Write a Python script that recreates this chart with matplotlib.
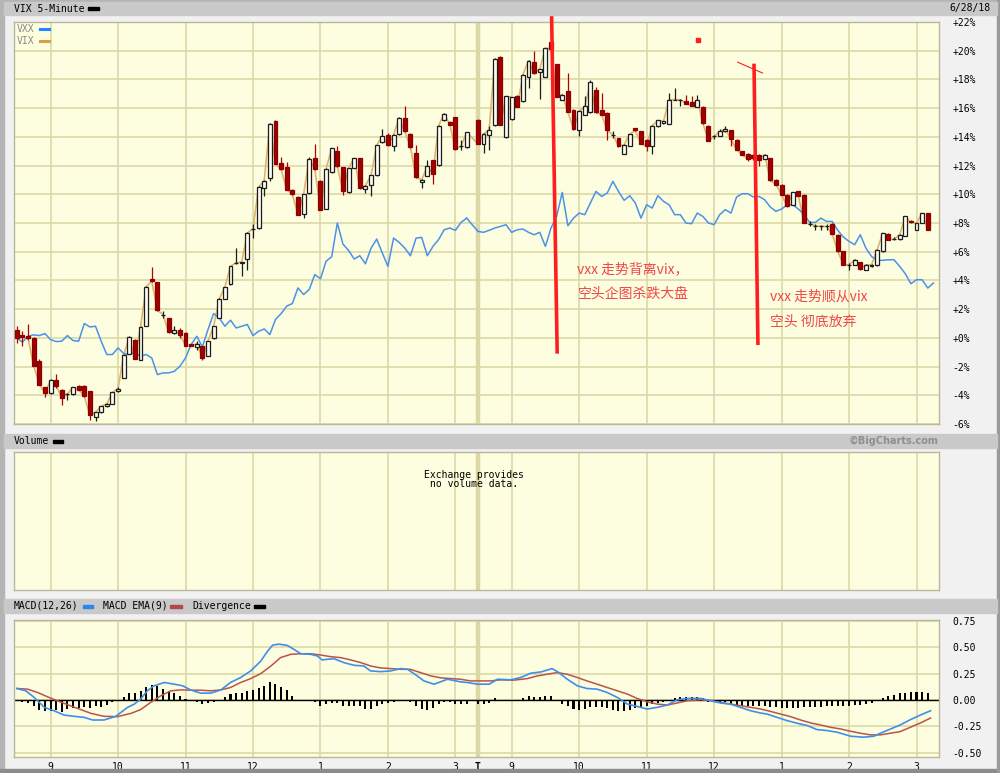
import numpy as np
import matplotlib.pyplot as plt
from matplotlib.patches import Rectangle

# ---- VIX 5-minute candles, % change (day 1: 81 bars, day 2: 81 bars) ----
d1_open = [0.58, 0.23, 0.16, -0.03, -1.63, -3.44, -3.84, -2.95, -3.60, -3.90,
           -3.90, -3.37, -3.32, -3.72, -5.53, -5.16, -4.76, -4.58, -3.72, -2.79,
           -1.09, -0.12, -1.51, 0.81, 4.11, 3.88, 1.62, 1.39, 0.35, 0.53,
           0.35, -0.42, -0.63, -0.58, -1.23, 0.00, 1.39, 2.72, 3.76, 5.22,
           5.18, 5.46, 7.59, 7.62, 10.45, 11.15, 15.10, 12.19, 11.89, 10.33,
           9.80, 8.66, 10.10, 12.54, 10.92, 8.99, 11.53, 12.99, 11.87, 10.13,
           11.83, 12.52, 10.36, 10.62, 11.32, 13.61, 14.10, 13.34, 14.20, 15.31,
           14.20, 12.87, 10.83, 11.29, 12.36, 12.06, 15.15, 15.03, 15.36, 13.34,
           13.29]
d1_high = [0.81, 0.46, 0.97, 0.05, -1.50, -3.40, -2.90, -2.49, -3.55, -3.85,
           -3.40, -3.30, -3.30, -3.70, -5.15, -4.74, -4.55, -3.75, -3.40, -1.15,
           0.10, -0.10, 0.80, 3.60, 4.95, 3.90, 1.86, 1.40, 0.81, 0.69,
           0.40, -0.40, -0.19, -0.55, -0.20, 0.85, 2.75, 3.55, 5.00, 6.27,
           5.30, 7.35, 7.90, 10.55, 11.00, 14.95, 15.15, 12.61, 12.24, 10.40,
           9.85, 10.05, 12.61, 13.47, 11.00, 11.80, 13.25, 13.34, 11.90, 11.86,
           12.55, 12.55, 10.65, 11.35, 13.45, 14.54, 14.27, 14.20, 15.35, 16.12,
           14.25, 13.45, 11.05, 12.36, 12.40, 14.82, 15.66, 15.08, 15.40, 13.80,
           14.35]
d1_low = [-0.35, -0.54, -0.12, -1.98, -3.30, -4.11, -3.90, -3.49, -4.65, -4.30,
          -3.95, -3.65, -4.10, -5.69, -5.81, -5.20, -4.80, -4.60, -3.75, -2.80,
          -1.10, -1.50, -1.55, 0.80, 3.90, 1.90, 1.39, 0.35, 0.30, -0.03,
          -0.60, -0.60, -0.82, -1.51, -1.25, -0.05, 1.35, 2.70, 3.70, 5.11,
          4.34, 4.71, 6.97, 7.60, 9.87, 10.92, 12.10, 11.70, 10.30, 9.95,
          8.55, 8.36, 10.05, 11.70, 8.90, 8.95, 11.50, 11.90, 9.97, 10.10,
          11.80, 10.40, 10.09, 9.90, 11.30, 13.55, 13.38, 12.99, 14.15, 14.35,
          13.25, 11.15, 10.43, 11.25, 10.74, 12.00, 15.10, 14.80, 13.10, 13.06,
          13.25]
d1_close = [0.00, 0.07, -0.03, -1.93, -3.25, -3.84, -2.95, -3.32, -4.18, -3.90,
            -3.44, -3.60, -4.07, -5.39, -5.18, -4.76, -4.60, -3.79, -3.53, -1.21,
            0.04, -1.44, 0.76, 3.55, 3.95, 1.93, 1.62, 0.39, 0.53, 0.23,
            -0.54, -0.58, -0.40, -1.40, -0.23, 0.81, 2.72, 3.53, 4.99, 5.22,
            5.29, 7.31, 7.59, 10.50, 10.96, 14.91, 12.12, 11.73, 10.33, 9.99,
            8.59, 9.99, 12.49, 11.73, 8.94, 11.77, 13.22, 11.94, 10.20, 11.83,
            12.52, 10.43, 10.60, 11.32, 13.41, 14.03, 13.41, 14.15, 15.31, 14.38,
            13.27, 11.18, 11.01, 11.94, 11.43, 14.78, 15.61, 14.85, 13.15, 13.34,
            14.31]

d2_open = [15.19, 13.50, 14.15, 14.80, 19.54, 13.99, 15.26, 16.87, 16.47, 18.17,
           19.21, 18.49, 18.17, 20.58, 19.07, 16.59, 17.17, 15.89, 14.50, 15.54,
           15.70, 17.24, 15.89, 15.66, 14.15, 13.92, 12.83, 13.38, 14.61, 14.38,
           13.80, 13.34, 14.73, 14.96, 14.92, 16.59, 16.59, 16.47, 16.40, 16.08,
           16.08, 14.78, 14.03, 14.08, 14.38, 14.45, 13.80, 12.99, 12.83, 12.76,
           12.76, 12.45, 12.52, 11.01, 10.67, 9.97, 9.27, 10.20, 9.97, 7.95,
           7.81, 7.76, 7.76, 7.95, 7.18, 6.02, 5.09, 5.09, 5.26, 4.75,
           4.98, 5.09, 6.02, 7.25, 6.88, 6.88, 7.11, 8.16, 7.53, 8.00,
           8.69]
d2_high = [15.25, 14.25, 14.73, 19.50, 19.60, 16.85, 16.80, 16.90, 18.35, 19.35,
           20.00, 18.75, 20.22, 20.60, 19.10, 16.97, 18.44, 15.92, 15.80, 16.82,
           17.98, 17.47, 17.05, 15.70, 14.38, 13.95, 13.48, 14.23, 14.65, 14.40,
           13.85, 14.80, 15.18, 15.10, 17.05, 17.40, 16.63, 16.94, 16.82, 16.94,
           16.12, 14.82, 14.15, 14.54, 14.78, 14.48, 13.83, 13.02, 12.86, 12.79,
           12.79, 12.79, 12.55, 11.04, 10.70, 10.00, 10.16, 10.23, 10.00, 8.11,
           7.95, 7.88, 7.95, 7.98, 7.21, 6.05, 5.21, 5.50, 5.29, 5.12,
           5.12, 6.17, 7.33, 7.28, 7.00, 7.21, 8.49, 8.20, 8.03, 8.72,
           8.72]
d2_low = [13.50, 12.87, 13.10, 14.75, 14.80, 13.95, 15.20, 16.05, 16.45, 17.40,
          18.40, 16.63, 18.15, 20.10, 16.75, 16.55, 15.70, 14.50, 14.08, 15.50,
          15.65, 15.65, 15.50, 13.80, 13.92, 13.30, 12.80, 13.35, 14.40, 13.50,
          12.99, 12.83, 14.70, 14.90, 14.90, 16.55, 16.17, 16.28, 16.15, 16.05,
          14.93, 13.70, 13.85, 14.05, 14.35, 13.38, 13.08, 12.74, 12.29, 12.36,
          11.94, 12.43, 10.95, 10.64, 9.94, 9.13, 9.25, 9.87, 7.97, 7.76,
          7.53, 7.53, 7.53, 7.20, 5.99, 5.06, 4.75, 5.05, 4.76, 4.72,
          4.95, 5.00, 6.00, 6.81, 6.80, 6.85, 7.08, 8.00, 7.50, 7.97,
          7.50]
d2_close = [13.52, 14.20, 14.50, 19.44, 14.85, 16.82, 16.77, 16.08, 18.33, 19.30,
            18.44, 18.72, 20.19, 20.12, 16.77, 16.94, 15.73, 14.54, 15.77, 16.12,
            17.79, 15.70, 15.54, 14.45, 14.15, 13.34, 13.45, 14.20, 14.45, 13.52,
            13.34, 14.78, 15.15, 15.08, 16.59, 16.59, 16.59, 16.31, 16.17, 16.59,
            14.96, 13.73, 14.03, 14.38, 14.54, 13.85, 13.10, 12.76, 12.45, 12.52,
            12.41, 12.76, 10.97, 10.67, 9.97, 9.16, 10.13, 9.90, 8.00, 7.95,
            7.81, 7.76, 7.76, 7.23, 6.02, 5.09, 5.09, 5.44, 4.79, 5.09,
            5.09, 6.14, 7.30, 6.84, 6.88, 7.18, 8.46, 8.04, 8.00, 8.69,
            7.53]

# ---- VXX comparison line, % change ----
vxx_d1 = [0.00, -0.30, 0.11, 0.21, 0.16, 0.30, -0.12, -0.26, -0.23, 0.16,
          -0.19, -0.23, 1.00, 0.76, 0.81, -0.23, -1.16, -1.16, -0.70, -1.09,
          -1.16, -1.00, -1.28, -1.16, -1.40, -2.56, -2.44, -2.44, -2.33, -1.98,
          -1.40, -0.47, 0.11, -0.63, 0.58, 1.69, 1.39, 0.81, 1.23, 0.69,
          0.81, 0.93, 0.16, 0.46, 0.62, 0.23, 1.28, 1.69, 2.21, 2.39,
          3.48, 3.02, 3.37, 4.41, 4.11, 5.34, 5.65, 8.00, 6.53, 6.09,
          5.49, 5.72, 5.16, 6.25, 6.88, 5.91, 4.98, 6.95, 6.65, 6.25,
          5.72, 6.95, 7.00, 5.72, 6.37, 6.84, 7.53, 7.65, 7.49, 8.04,
          8.34]
vxx_d2 = [7.42, 7.35, 7.49, 7.65, 7.76, 7.88, 7.35, 7.53, 7.58, 7.35,
          7.18, 7.35, 6.37, 7.65, 8.46, 10.13, 7.81, 8.34, 8.69, 8.58,
          9.39, 10.20, 9.85, 10.09, 10.90, 10.20, 9.58, 9.90, 9.39, 8.34,
          9.27, 9.04, 9.90, 9.51, 9.27, 8.58, 8.58, 8.00, 7.95, 8.69,
          8.46, 8.00, 7.88, 8.58, 8.93, 8.69, 9.81, 10.04, 10.04, 9.81,
          9.85, 9.62, 9.11, 8.81, 8.97, 9.27, 9.27, 8.97, 8.58, 8.04,
          8.04, 8.34, 8.11, 8.11, 7.49, 7.02, 6.72, 6.49, 7.18, 6.25,
          5.67, 5.40, 5.40, 5.44, 5.44, 4.98, 4.47, 3.77, 4.05, 4.05,
          3.47, 3.82]

# ---- MACD(12,26), EMA(9), divergence ----
macd_slot = [0, 1.6, 3.1, 4.9, 6.6, 8.4, 10.2, 12.0, 13.5, 15.5,
             17.6, 19.7, 20.9, 22.0, 23.2, 24.4, 26.2, 28.0, 29.5, 30.9,
             32.7, 34.5, 36.3, 38.0, 39.8, 41.6, 43.4, 44.6, 45.5, 46.6,
             48.1, 49.3, 50.5, 52.3, 53.5, 54.3, 55.2, 56.4, 58.2, 60.0,
             61.7, 62.9, 64.7, 66.5, 68.3, 69.5, 71.2, 72.4, 74.2, 76.6,
             78.9, 80.1, 81.9, 84.0, 85.5, 87.8, 89.6, 91.4, 93.2, 95.2,
             96.4, 97.9, 99.7, 101.4, 103.2, 105.0, 106.8, 108.6, 110.3, 112.1,
             113.9, 115.7, 117.4, 119.2, 121.6, 123.4, 125.2, 126.9, 128.7, 130.5,
             132.3, 133.4, 135.2, 137.0, 138.8, 140.6, 142.3, 144.1, 145.9, 148.3,
             150.6, 152.4, 153.6, 155.4, 157.1, 158.9, 160.7, 162.5]
macd_val = [0.110, 0.088, 0.025, -0.069, -0.101, -0.142, -0.154, -0.164, -0.189, -0.189,
            -0.154, -0.069, -0.038, 0.009, 0.088, 0.135, 0.167, 0.151, 0.135, 0.097,
            0.066, 0.066, 0.097, 0.167, 0.214, 0.277, 0.371, 0.465, 0.522, 0.531,
            0.519, 0.481, 0.440, 0.434, 0.418, 0.381, 0.387, 0.393, 0.355, 0.330,
            0.324, 0.277, 0.270, 0.277, 0.299, 0.292, 0.230, 0.182, 0.151, 0.198,
            0.173, 0.167, 0.151, 0.151, 0.198, 0.192, 0.214, 0.255, 0.267, 0.299,
            0.261, 0.198, 0.135, 0.110, 0.104, 0.072, 0.025, -0.038, -0.060, -0.085,
            -0.069, -0.047, 0.003, 0.016, 0.016, -0.006, -0.028, -0.038, -0.069, -0.101,
            -0.123, -0.132, -0.164, -0.195, -0.220, -0.242, -0.280, -0.289, -0.305, -0.343,
            -0.352, -0.343, -0.314, -0.274, -0.236, -0.186, -0.142, -0.101]
ema_slot = [0, 1.9, 3.7, 6.0, 8.4, 10.8, 13.2, 15.5, 17.9, 20.3,
            22.0, 23.8, 25.6, 27.4, 29.2, 30.9, 32.7, 34.5, 36.3, 38.0,
            39.8, 41.6, 43.4, 45.2, 46.9, 48.7, 50.5, 52.3, 54.0, 55.8,
            57.6, 59.4, 61.2, 62.9, 64.7, 66.5, 68.3, 70.0, 71.8, 73.6,
            75.4, 77.2, 78.9, 80.7, 82.5, 84.3, 86.0, 88.4, 90.8, 92.6,
            94.3, 96.1, 97.9, 99.7, 101.4, 103.2, 105.0, 106.8, 108.6, 110.3,
            112.1, 113.9, 115.7, 117.4, 119.2, 121.6, 123.4, 125.2, 126.9, 128.7,
            130.5, 132.3, 134.0, 135.8, 137.6, 139.4, 141.2, 142.9, 144.7, 146.5,
            148.3, 150.0, 151.8, 153.6, 155.4, 157.1, 158.9, 160.7, 162.5]
ema_val = [0.110, 0.104, 0.072, 0.019, -0.031, -0.079, -0.126, -0.154, -0.157, -0.126,
           -0.091, -0.022, 0.041, 0.088, 0.097, 0.094, 0.094, 0.088, 0.097, 0.119,
           0.167, 0.204, 0.252, 0.324, 0.403, 0.434, 0.440, 0.440, 0.428, 0.412,
           0.403, 0.381, 0.355, 0.324, 0.305, 0.299, 0.292, 0.292, 0.261, 0.230,
           0.211, 0.204, 0.198, 0.182, 0.182, 0.182, 0.192, 0.189, 0.204, 0.230,
           0.245, 0.261, 0.245, 0.214, 0.182, 0.151, 0.119, 0.088, 0.057, 0.016,
           -0.016, -0.038, -0.047, -0.028, -0.006, 0.003, -0.006, -0.022, -0.038, -0.053,
           -0.069, -0.085, -0.107, -0.132, -0.157, -0.189, -0.217, -0.236, -0.258, -0.274,
           -0.296, -0.314, -0.330, -0.330, -0.314, -0.299, -0.258, -0.217, -0.170]
div_d1 = [0.0, -0.022, -0.028, -0.060, -0.091, -0.107, -0.107, -0.091, -0.110, -0.085,
          -0.079, -0.079, -0.069, -0.079, -0.060, -0.069, -0.047, -0.022, 0.0, 0.025,
          0.066, 0.066, 0.088, 0.126, 0.142, 0.135, 0.110, 0.088, 0.066, 0.041,
          0.009, 0.0, -0.022, -0.038, -0.031, -0.016, 0.0, 0.025, 0.057, 0.072,
          0.072, 0.088, 0.097, 0.119, 0.135, 0.173, 0.157, 0.126, 0.094, 0.041,
          0.0, -0.009, 0.0, -0.022, -0.053, -0.038, -0.028, -0.028, -0.053, -0.053,
          -0.060, -0.060, -0.085, -0.085, -0.060, -0.038, -0.031, -0.016, 0.0, 0.0,
          -0.022, -0.060, -0.085, -0.091, -0.079, -0.038, -0.022, -0.016, -0.038, -0.038,
          -0.038]
div_d2 = [-0.038, -0.038, -0.028, 0.016, 0.0, 0.0, 0.003, 0.0, 0.016, 0.035,
          0.025, 0.025, 0.035, 0.035, 0.0, -0.038, -0.060, -0.085, -0.091, -0.085,
          -0.069, -0.069, -0.069, -0.079, -0.091, -0.101, -0.107, -0.091, -0.079, -0.069,
          -0.053, -0.038, -0.028, -0.016, 0.0, 0.016, 0.025, 0.025, 0.025, 0.025,
          0.016, -0.016, -0.016, -0.022, -0.022, -0.038, -0.047, -0.053, -0.060, -0.060,
          -0.060, -0.060, -0.069, -0.069, -0.079, -0.079, -0.079, -0.079, -0.069, -0.069,
          -0.069, -0.069, -0.060, -0.060, -0.060, -0.060, -0.060, -0.047, -0.047, -0.038,
          -0.028, 0.0, 0.016, 0.035, 0.047, 0.066, 0.072, 0.079, 0.079, 0.079,
          0.072]

# x axis: one slot per 5-minute bar, day 2 starts at slot 82 ("T")
hour_slots = [6, 18, 30, 42, 54, 66, 78, 82, 88, 100, 112, 124, 136, 148, 160]
hour_labels = ['9', '10', '11', '12', '1', '2', '3', 'T', '9', '10', '11', '12', '1', '2', '3']

plt.rcParams['font.family'] = ['DejaVu Sans Mono']
W, H = 1000, 773
FS = 7
BG = '#fdfde0'
GRID = '#dcd8a6'
cjk = ['Noto Sans CJK SC', 'DejaVu Sans']

fig = plt.figure(figsize=(10, 7.73), dpi=100, facecolor='#f1f1f1')


def box(l, t, r, b):
    return [l / W, 1 - b / H, (r - l) / W, (b - t) / H]


def frect(l, t, r, b, color):
    fig.patches.append(Rectangle((l / W, 1 - b / H), (r - l) / W, (b - t) / H,
                                 transform=fig.transFigure, color=color, zorder=0))


# header bars and frame
frect(0, 0, 4, 773, '#b4b4b4')
frect(0, 0, 1000, 2, '#b4b4b4')
frect(0, 769, 1000, 773, '#8c8c8c')
frect(997, 0, 1000, 773, '#9a9a9a')
frect(4, 2, 997, 15, '#c9c9c9')
frect(4, 434, 997, 448, '#c9c9c9')
frect(4, 599, 997, 613, '#c9c9c9')

fig.text(14 / W, 1 - 8.5 / H, 'VIX 5-Minute', fontsize=FS, va='center')
frect(88, 7, 99, 10, 'black')
fig.text(990 / W, 1 - 8.5 / H, '6/28/18', fontsize=FS, va='center', ha='right')
fig.text(14 / W, 1 - 441 / H, 'Volume', fontsize=FS, va='center')
frect(53, 440, 63, 443, 'black')
fig.text(938 / W, 1 - 441 / H, '\u00a9BigCharts.com', fontsize=FS, va='center', ha='right',
         color='#8e8e8e', fontweight='bold', family=['DejaVu Sans'])
fig.text(14 / W, 1 - 606 / H, 'MACD(12,26)', fontsize=FS, va='center')
frect(83, 605, 93, 608, '#2a86ee')
fig.text(103 / W, 1 - 606 / H, 'MACD EMA(9)', fontsize=FS, va='center')
frect(170, 605, 182, 608, '#b44848')
fig.text(192 / W, 1 - 606 / H, 'Divergence', fontsize=FS, va='center')
frect(254, 605, 265, 608, 'black')

ax = fig.add_axes(box(14, 22, 939, 424))
axv = fig.add_axes(box(14, 452, 939, 590))
axm = fig.add_axes(box(14, 620, 939, 757))

for a in (ax, axv, axm):
    a.set_facecolor(BG)
    a.set_xlim(-0.5, 164)
    for s in a.spines.values():
        s.set_color('#b9b89c')
        s.set_linewidth(1)
    for xs in hour_slots:
        a.axvline(xs, color=GRID, lw=3.2 if xs == 82 else 1.2, zorder=0.5)
    a.set_xticks(hour_slots)
    a.tick_params(length=0)

# ---- main price panel ----
ax.set_ylim(-6, 22)
yt = list(range(-6, 23, 2))
ax.set_yticks(yt)
ax.set_yticklabels([('+%d%%' % v) if v >= 0 else ('%d%%' % v) for v in yt])
ax.yaxis.tick_right()
ax.tick_params(axis='y', labelsize=FS, pad=9.5)
ax.set_xticklabels([])
ax.grid(axis='y', color=GRID, lw=1.2, zorder=0.5)
ax.set_axisbelow(True)

x1 = np.arange(81)
x2 = np.arange(82, 163)
xs_all = np.concatenate([x1, x2])
o = np.array(d1_open + d2_open)
hi = np.array(d1_high + d2_high)
lo = np.array(d1_low + d2_low)
c = np.array(d1_close + d2_close)

ax.plot(xs_all, c, color='#dfb46c', lw=1.2, zorder=2)
ax.plot(np.arange(81), vxx_d1, color='#4a92ea', lw=1.1, zorder=2)
ax.plot(np.arange(82, 82 + len(vxx_d2)), vxx_d2, color='#4a92ea', lw=1.1, zorder=2)
ax.plot([80, 82], [vxx_d1[-1], vxx_d2[0]], color='#4a92ea', lw=1.1, zorder=2)

up = c >= o
ax.vlines(xs_all[up], lo[up], hi[up], color='#1c1c1c', lw=0.9, zorder=3)
ax.vlines(xs_all[~up], lo[~up], hi[~up], color='#b40000', lw=0.9, zorder=3)
ax.bar(xs_all[up], c[up] - o[up], bottom=o[up], width=0.7, facecolor='#fbfbf2',
       edgecolor='#1c1c1c', lw=0.9, zorder=4)
ax.bar(xs_all[~up], c[~up] - o[~up], bottom=o[~up], width=0.7, facecolor='#a00000',
       edgecolor='#8c0000', lw=0.9, zorder=4)

# legend inside panel
ax.text(3 / 925, 1 - 7 / 402, 'VXX', transform=ax.transAxes, fontsize=FS, color='#8a8a8a', va='center')
ax.text(3 / 925, 1 - 19 / 402, 'VIX', transform=ax.transAxes, fontsize=FS, color='#8a8a8a', va='center')
ax.plot([26 / 925, 35 / 925], [1 - 7 / 402] * 2, transform=ax.transAxes, color='#1e86ff', lw=2.2)
ax.plot([26 / 925, 35 / 925], [1 - 19 / 402] * 2, transform=ax.transAxes, color='#d6a23e', lw=2.2)

# hand-drawn red annotations
red = '#ff1e1e'
ax.plot([95.1, 96.1], [22.6, -1.1], color=red, lw=2.6, zorder=6, clip_on=False, solid_capstyle='butt')
ax.plot([131.1, 131.8], [19.1, -0.5], color=red, lw=2.6, zorder=6, solid_capstyle='butt')
ax.plot([128.2, 132.6], [19.2, 18.45], color=red, lw=0.8, zorder=6)
ax.plot([121.2], [20.75], marker='s', ms=2.5, color=red, zorder=6)
tc = '#f04646'
ax.text(99.7, 4.75, 'vxx 走势背离vix，', color=tc, fontsize=10, family=cjk, va='center', zorder=7)
ax.text(99.7, 3.1, '空头企图杀跌大盘', color=tc, fontsize=10, family=cjk, va='center', zorder=7)
ax.text(133.9, 2.85, 'vxx 走势顺从vix', color=tc, fontsize=10, family=cjk, va='center', zorder=7)
ax.text(133.9, 1.1, '空头 彻底放弃', color=tc, fontsize=10, family=cjk, va='center', zorder=7)

# ---- volume panel (no data) ----
axv.set_ylim(0, 1)
axv.set_yticks([])
axv.set_xticklabels([])
axv.text(0.497, 0.8, 'Exchange provides\nno volume data.', transform=axv.transAxes,
         ha='center', va='center', fontsize=FS, linespacing=0.95)

# ---- MACD panel ----
axm.set_ylim(-0.54, 0.76)
mt = [-0.5, -0.25, 0.0, 0.25, 0.5, 0.75]
axm.set_yticks(mt)
axm.set_yticklabels(['%.2f' % v for v in mt])
axm.yaxis.tick_right()
axm.tick_params(axis='y', labelsize=FS, pad=9.5)
axm.grid(axis='y', color=GRID, lw=1.2, zorder=0.5)
axm.set_axisbelow(True)
axm.axhline(0, color='black', lw=1.0, zorder=2)
axm.bar(np.arange(81), div_d1, width=0.36, color='black', zorder=3)
axm.bar(np.arange(82, 163), div_d2, width=0.36, color='black', zorder=3)
axm.plot(ema_slot, ema_val, color='#b8544a', lw=1.1, zorder=4)
axm.plot(macd_slot, macd_val, color='#3f8fea', lw=1.2, zorder=5)
axm.set_xticklabels(hour_labels)
axm.tick_params(axis='x', labelsize=FS, pad=3.5)
for lab in axm.get_xticklabels():
    if lab.get_text() == 'T':
        lab.set_fontweight('bold')

fig.savefig('out.png', dpi=100, facecolor=fig.get_facecolor())
